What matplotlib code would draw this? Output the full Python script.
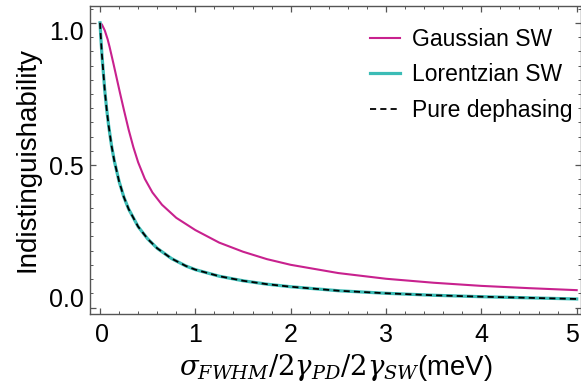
"""
Indistinguishability vs. spectral-wandering / pure-dephasing width.
Curves read off the reference figure.
"""
import matplotlib
matplotlib.use("Agg")
import matplotlib.pyplot as plt
import matplotlib.ticker as mticker
from matplotlib.transforms import ScaledTranslation

plt.rcParams["font.family"] = ["Liberation Sans", "DejaVu Sans"]
plt.rcParams["mathtext.fontset"] = "dejavuserif"

# Gaussian spectral wandering
gauss_x = [0, 0.02, 0.05, 0.08, 0.10, 0.14, 0.18, 0.21, 0.25, 0.30, 0.35,
           0.40, 0.47, 0.55, 0.65, 0.80, 1.00, 1.25, 1.50, 1.75, 2.00,
           2.50, 3.00, 3.50, 4.00, 4.50, 5.00]
gauss_y = [1.0, 0.994, 0.973, 0.942, 0.916, 0.858, 0.798, 0.753, 0.695, 0.625, 0.563,
           0.510, 0.452, 0.404, 0.361, 0.315, 0.272, 0.228, 0.196, 0.170, 0.150,
           0.121, 0.101, 0.087, 0.076, 0.068, 0.061]

# Lorentzian spectral wandering (same curve as pure dephasing)
lor_x = [0, 0.01, 0.02, 0.035, 0.05, 0.07, 0.09, 0.12, 0.15, 0.20, 0.25,
         0.30, 0.40, 0.50, 0.60, 0.75, 0.90, 1.00, 1.25, 1.50, 1.75, 2.00,
         2.50, 3.00, 3.50, 4.00, 4.50, 5.00]
lor_y = [1.0, 0.941, 0.888, 0.825, 0.762, 0.696, 0.640, 0.570, 0.515, 0.443, 0.388,
         0.346, 0.284, 0.241, 0.208, 0.172, 0.146, 0.133, 0.110, 0.094, 0.082, 0.073,
         0.059, 0.050, 0.043, 0.038, 0.034, 0.030]
pd_x = lor_x
pd_y = lor_y

y_ticks = [0.0, 0.5, 1.0]
y_ticklabels = ["0.0", "0.5", "1.0"]
x_ticks = [0, 1, 2, 3, 4, 5]

MAGENTA = "#c8218e"
TEAL = "#3bbcb6"

fig = plt.figure(figsize=(5.81, 3.83), dpi=100)
ax = fig.add_axes([90 / 581, 1 - 313.5 / 383, 490.5 / 581, 307.5 / 383])

ax.plot(gauss_x, gauss_y, color=MAGENTA, lw=1.5, label="Gaussian SW")
ax.plot(lor_x, lor_y, color=TEAL, lw=2.3, label="Lorentzian SW")
ax.plot(pd_x, pd_y, color="black", lw=1.3, ls=(0, (3.4, 2.3)), label="Pure dephasing")

ax.set_xlim(-0.105, 5.04)
ax.set_ylim(-0.021, 1.059)

ax.set_xticks(x_ticks)
ax.set_yticks(y_ticks)
ax.set_yticklabels(y_ticklabels)
ax.xaxis.set_minor_locator(mticker.MultipleLocator(0.2))
ax.yaxis.set_minor_locator(mticker.MultipleLocator(0.05))
ax.tick_params(which="both", direction="in", top=True, right=True, color="#555555")
ax.tick_params(which="major", length=4.5, width=0.9, labelsize=18)
ax.tick_params(which="minor", length=2.5, width=0.7)
ax.tick_params(axis="y", pad=4.5)
ax.tick_params(axis="x", pad=7)
for sp in ax.spines.values():
    sp.set_color("#555555")
    sp.set_linewidth(1.0)

# tick labels sit slightly off the ticks in the reference
for lbl, dy in zip(ax.get_yticklabels(), [7.5, 0.0, -5.8]):
    lbl.set_transform(lbl.get_transform() + ScaledTranslation(0, dy / 72, fig.dpi_scale_trans))
for lbl, dx in zip(ax.get_xticklabels(), [1.2, 0, 0, 0, 0, -3.2]):
    lbl.set_transform(lbl.get_transform() + ScaledTranslation(dx / 72, 0, fig.dpi_scale_trans))

ax.set_ylabel("Indistinguishability", fontsize=20, labelpad=6)
ax.set_xlabel(r"$\sigma_{FWHM}/2\gamma_{PD}/2\gamma_{SW}$(meV)", fontsize=19.8, labelpad=3.5)

ax.legend(loc="upper left", bbox_to_anchor=(0.571, 0.93), frameon=False,
          fontsize=16.5, borderpad=0, borderaxespad=0, handlelength=1.3,
          handletextpad=0.52, labelspacing=0.55)

fig.savefig("out.png", dpi=100)
